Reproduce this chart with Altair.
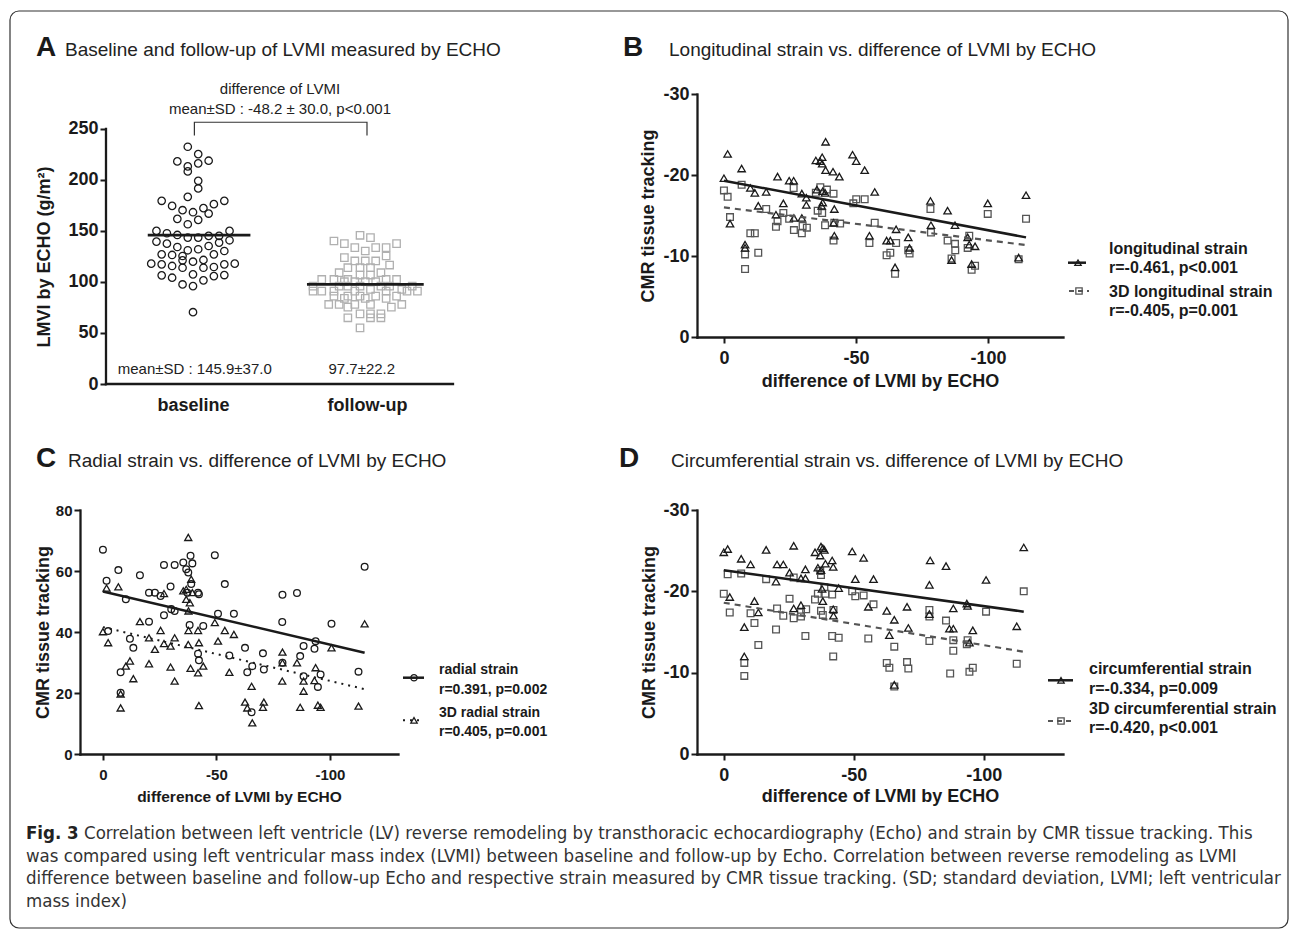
import altair as alt
import pandas as pd

FONT = "Liberation Sans, Arial, Helvetica, sans-serif"
CAP_FONT = "Liberation Sans Narrow, DejaVu Sans Condensed, Arial Narrow, sans-serif"
INK = "#1a1a1a"
GRAY = "#555555"
LIGHT = "#b0b0b0"
MINUS_FIX = "replace(datum.label, '\u2212', '-')"

# ---------------- Panel A data ----------------
A_groups = ["baseline", "follow-up"]
A_base_dx = [-0.03, 0.03, -0.09, 0.09, -0.03, 0.03, -0.03, 0.03, 0.03, -0.03,
             -0.18, 0.18, -0.12, 0.12, -0.06, 0.00, 0.06, 0.09, -0.09, 0.03,
             -0.03, -0.21, 0.21, -0.15, -0.09, -0.03, 0.03, 0.09, 0.15, -0.21,
             -0.15, -0.09, -0.03, 0.03, 0.09, 0.15, 0.21, -0.18, -0.12, -0.06,
             0.12, 0.18, -0.24, -0.18, -0.12, -0.06, 0.00, 0.06, 0.12, 0.18,
             0.24, -0.06, 0.06, -0.18, -0.12, 0.00, 0.06, 0.12, 0.18, -0.06,
             0.00, 0.00]
A_base_y = [232.6, 225.4, 218.2, 218.9, 213.3, 216.3, 208.4, 199.2, 191.7, 183.5,
            179.6, 179.6, 174.6, 176.3, 170.4, 168.4, 172.4, 167.1, 161.9, 160.9,
            156.6, 150.1, 150.1, 147.8, 146.1, 143.5, 143.5, 145.2, 145.2, 139.6,
            137.6, 134.3, 131.1, 132.1, 135.3, 138.6, 140.9, 127.1, 126.5, 125.5,
            127.1, 130.4, 118.0, 117.3, 115.7, 121.2, 119.9, 121.6, 114.7, 117.3,
            118.0, 114.0, 114.0, 106.5, 104.2, 107.5, 101.6, 105.8, 106.8, 97.6,
            96.0, 70.4]
A_fu_dx = [-0.04, 0.02, -0.19, -0.13, 0.17, -0.07, 0.05, 0.11, -0.01, 0.11,
           -0.13, -0.07, -0.01, 0.05, 0.13, -0.11, -0.04, 0.02, -0.16, 0.08,
           -0.04, 0.02, -0.26, -0.19, -0.11, 0.11, 0.17, -0.13, -0.07, -0.01,
           0.05, -0.31, -0.16, -0.11, -0.04, 0.08, 0.13, 0.26, 0.02, 0.20,
           -0.31, -0.26, -0.19, -0.07, 0.11, 0.23, 0.29, -0.19, -0.11, -0.04,
           0.05, 0.17, -0.13, -0.01, 0.11, -0.22, -0.16, -0.07, 0.02, 0.20,
           -0.11, 0.14, -0.04, 0.02, 0.08, -0.11, 0.02, 0.08, -0.04]
A_fu_y = [145.8, 143.5, 140.2, 137.6, 137.6, 133.7, 133.7, 133.7, 130.4, 125.5,
          123.9, 120.6, 120.6, 120.6, 116.6, 114.0, 114.0, 114.0, 109.1, 109.1,
          106.8, 106.8, 102.5, 102.5, 102.5, 102.5, 102.5, 100.3, 100.3, 100.3,
          100.3, 96.0, 96.0, 96.0, 96.0, 96.0, 96.0, 96.0, 92.7, 92.7,
          91.1, 91.1, 91.1, 91.1, 91.1, 91.1, 91.1, 86.2, 86.2, 86.2,
          86.2, 86.2, 83.9, 83.9, 83.9, 78.0, 78.0, 78.0, 78.0, 78.0,
          75.4, 75.4, 68.8, 68.8, 68.8, 64.9, 64.9, 64.9, 55.0]
A_means = [145.9, 97.7]
A_mean_from = [-0.26, 0.655]
A_mean_to = [0.33, 1.326]
A_top_texts = ["difference of LVMI", "mean\u00b1SD : -48.2 \u00b1 30.0, p<0.001"]
A_top_y = [289.2, 269.6]
A_bottom_texts = ["mean\u00b1SD : 145.9\u00b137.0", "97.7\u00b122.2"]
A_bottom_x = [0.01, 0.97]
A_bracket_x = [0.008, 0.008, 1.0, 1.0]
A_bracket_y = [243.5, 256.6, 256.6, 243.5]

# ---------------- Panel B data ----------------
B_tri_x = [0, -1.4, -2.3, -6.7, -8.0, -8.0, -10.0, -11.7, -16.0, -13.0,
           -20.3, -19.7, -22.5, -24.7, -26.4, -26.5, -29.5, -29.5, -31.2, -31.2,
           -34.8, -36.4, -37.2, -37.2, -38.5, -38.5, -35.2, -37.4, -38.3, -37.0,
           -37.4, -41.3, -43.7, -41.8, -41.5, -41.8, -48.7, -50.1, -53.3, -57.1,
           -55.1, -61.6, -63.0, -65.2, -64.8, -69.8, -70.3, -78.2, -78.4, -84.7,
           -86.2, -87.5, -92.3, -92.9, -95.1, -93.8, -99.9, -111.6, -114.4]
B_tri_y = [-19.6, -22.6, -14.0, -20.8, -11.4, -11.0, -18.4, -17.8, -17.9, -16.2,
           -19.8, -15.1, -16.5, -19.3, -19.3, -14.7, -14.7, -17.7, -17.2, -16.3,
           -21.8, -21.7, -22.2, -21.4, -24.1, -20.6, -18.2, -18.0, -17.8, -16.2,
           -16.6, -20.4, -19.8, -15.8, -14.1, -12.5, -22.5, -21.7, -20.6, -17.9,
           -12.5, -11.9, -11.9, -13.3, -8.6, -12.3, -11.0, -16.8, -13.8, -15.6,
           -9.5, -13.8, -12.3, -11.4, -11.2, -9.0, -16.5, -9.8, -17.5]
B_sq_x = [0, -1.4, -2.3, -6.7, -8.0, -8.0, -10.0, -11.7, -13.0, -16.0,
          -19.7, -20.3, -22.5, -24.7, -26.4, -26.5, -29.5, -29.8, -31.4, -34.8,
          -35.5, -36.5, -37.2, -38.3, -39.0, -41.5, -41.5, -41.8, -44.0, -49.0,
          -50.1, -53.3, -55.1, -57.1, -61.6, -63.0, -65.2, -64.8, -69.8, -70.3,
          -78.2, -78.4, -84.7, -86.2, -87.5, -87.6, -92.3, -92.9, -93.8, -95.1,
          -99.9, -111.6, -114.4]
B_sq_y = [-18.1, -17.3, -14.8, -18.8, -10.2, -8.4, -12.8, -12.8, -10.4, -15.8,
          -13.6, -14.3, -15.3, -14.6, -18.4, -13.2, -12.8, -13.7, -13.5, -17.8,
          -15.6, -18.5, -15.3, -13.8, -18.2, -17.7, -11.9, -14.1, -14.0, -16.5,
          -17.0, -17.0, -11.6, -14.1, -10.1, -10.4, -11.6, -7.8, -10.7, -10.3,
          -15.8, -12.9, -11.9, -9.7, -11.5, -10.7, -11.0, -12.5, -8.3, -8.8,
          -15.2, -9.6, -14.6]
B_fit_x = [0, -114.4]
B_fit_y = [-19.3, -12.3]
B_fit3d_x = [0, -115.7]
B_fit3d_y = [-16.0, -11.3]

# ---------------- Panel C data ----------------
C_circ_x = [0, -1.6, -2.3, -6.8, -7.8, -7.8, -10.1, -11.9, -13.4, -16.3,
            -20.3, -20.3, -22.9, -25.4, -26.9, -26.9, -29.8, -30.1, -31.6, -31.6,
            -35.4, -36.7, -37.2, -37.6, -38.2, -38.6, -38.9, -39.4, -41.9, -42.3,
            -41.9, -42.3, -44.2, -49.3, -50.7, -53.7, -55.7, -57.7, -62.6, -63.6,
            -65.5, -65.8, -70.5, -70.9, -79.1, -79.0, -79.1, -85.5, -86.9, -88.4,
            -88.4, -93.7, -93.2, -95.9, -94.7, -100.7, -112.6, -115.3]
C_circ_y = [67.0, 56.8, 40.3, 60.3, 26.8, 20.1, 50.7, 37.8, 34.8, 58.6,
            52.9, 43.4, 52.9, 51.8, 62.0, 45.5, 54.9, 47.5, 46.9, 62.0,
            62.8, 60.6, 52.9, 59.5, 42.3, 65.0, 55.7, 62.5, 52.9, 52.4,
            32.9, 30.7, 42.0, 65.2, 46.0, 55.7, 32.3, 46.0, 34.8, 26.8,
            13.7, 28.8, 33.0, 27.7, 52.2, 43.3, 29.9, 52.8, 32.1, 35.4,
            25.5, 37.0, 34.5, 26.1, 22.0, 42.7, 27.0, 61.4]
C_tri_x = [0, -1.6, -2.3, -6.8, -7.8, -7.8, -10.1, -11.9, -13.4, -16.3,
           -20.3, -20.3, -22.9, -25.4, -26.9, -26.9, -29.8, -29.8, -31.6, -31.6,
           -35.4, -36.7, -36.7, -37.6, -37.7, -37.7, -37.6, -38.3, -38.6, -38.9,
           -39.4, -41.9, -42.3, -41.9, -42.3, -44.2, -49.3, -50.7, -53.7, -55.7,
           -57.7, -62.6, -63.6, -65.5, -65.8, -70.5, -70.9, -79.1, -79.0, -79.1,
           -85.5, -86.9, -88.4, -88.4, -93.7, -93.2, -94.7, -95.9, -100.7, -112.6,
           -115.3]
C_tri_y = [40.1, 54.4, 36.5, 54.8, 19.7, 15.1, 28.8, 30.5, 24.7, 43.4,
           38.1, 29.6, 34.3, 40.5, 52.6, 36.2, 35.4, 28.5, 38.1, 23.9,
           53.5, 54.0, 50.7, 71.0, 46.9, 40.5, 35.9, 49.6, 28.1, 57.3,
           52.9, 40.5, 36.5, 26.6, 15.9, 28.8, 43.1, 37.0, 40.5, 26.8,
           39.2, 17.0, 15.1, 22.2, 10.2, 15.3, 17.0, 33.4, 23.9, 29.9,
           29.9, 15.3, 23.9, 20.6, 28.3, 24.1, 16.0, 15.3, 34.8, 15.7,
           42.7]
C_fit_x = [0, -115.3]
C_fit_y = [53.3, 33.2]
C_fit3d_x = [0, -115.7]
C_fit3d_y = [41.6, 21.2]

# ---------------- Panel D data ----------------
D_tri_x = [0, -1.5, -2.3, -6.7, -7.9, -7.9, -10.3, -11.8, -13.3, -16.3,
           -20.1, -20.5, -22.9, -25.3, -26.9, -26.9, -29.7, -29.7, -31.4, -31.4,
           -35.1, -36.2, -37.1, -37.4, -38.1, -38.7, -39.1, -37.4, -37.8, -38.1,
           -41.7, -42.1, -42.1, -42.2, -44.2, -49.4, -50.6, -53.8, -57.6, -55.6,
           -62.7, -63.7, -65.6, -65.6, -70.5, -71.0, -79.4, -79.1, -79.1, -85.5,
           -86.8, -88.3, -88.3, -93.5, -93.8, -94.5, -95.8, -100.9, -112.7, -115.4]
D_tri_y = [-24.8, -25.2, -19.3, -24.0, -15.6, -12.0, -23.3, -18.8, -17.4, -25.1,
           -21.2, -23.3, -23.3, -22.3, -25.6, -17.9, -21.6, -18.3, -22.7, -21.6,
           -24.8, -22.9, -24.4, -25.5, -25.3, -25.1, -23.4, -22.6, -20.3, -18.8,
           -23.8, -23.0, -17.8, -17.0, -20.4, -24.9, -21.5, -24.1, -21.5, -18.1,
           -17.6, -14.6, -16.5, -8.5, -18.1, -15.5, -23.8, -20.8, -17.2, -23.1,
           -15.4, -15.4, -17.9, -18.5, -18.2, -13.7, -15.2, -21.4, -15.7, -25.4]
D_sq_x = [0, -1.5, -2.3, -6.7, -7.9, -7.9, -10.3, -11.8, -13.3, -16.3,
          -20.1, -20.5, -22.9, -25.3, -26.9, -26.9, -29.7, -29.7, -31.4, -31.7,
          -35.1, -36.2, -37.1, -37.4, -37.4, -38.1, -38.7, -39.1, -41.7, -41.7,
          -42.1, -42.2, -44.2, -49.4, -50.6, -53.8, -55.6, -57.6, -62.7, -63.7,
          -65.6, -65.6, -70.5, -71.0, -79.1, -79.1, -79.1, -85.5, -87.1, -88.3,
          -88.3, -93.5, -93.8, -94.5, -95.8, -100.9, -112.7, -115.4]
D_sq_y = [-19.7, -22.1, -17.4, -22.2, -11.2, -9.6, -17.3, -16.1, -13.4, -21.5,
          -15.3, -17.9, -17.0, -19.1, -21.7, -16.7, -16.9, -17.4, -14.5, -17.8,
          -19.0, -19.7, -22.5, -22.0, -17.6, -17.1, -20.5, -19.7, -19.6, -14.5,
          -12.0, -17.7, -14.3, -20.0, -19.4, -19.5, -14.2, -18.4, -11.2, -10.6,
          -13.2, -8.3, -11.3, -10.5, -17.7, -16.9, -13.9, -16.4, -9.9, -14.0,
          -12.7, -13.5, -14.0, -10.1, -10.6, -17.5, -11.1, -20.0]
D_fit_x = [0, -115.4]
D_fit_y = [-22.6, -17.5]
D_fit3d_x = [0, -116.9]
D_fit3d_y = [-18.6, -12.5]

# ---------------- Texts ----------------
TITLES = {
    "A": "Baseline and follow-up of LVMI measured by ECHO",
    "B": "Longitudinal strain vs. difference of LVMI by ECHO",
    "C": "Radial strain vs. difference of LVMI by ECHO",
    "D": "Circumferential strain vs. difference of LVMI by ECHO",
}
X_TITLE = "difference of LVMI by ECHO"
Y_TITLE = "CMR tissue tracking"
LEG_B = [["longitudinal strain", "r=-0.461, p<0.001"], ["3D longitudinal strain", "r=-0.405, p=0.001"]]
LEG_C = [["radial strain", "r=0.391, p=0.002"], ["3D radial strain", "r=0.405, p=0.001"]]
LEG_D = [["circumferential strain", "r=-0.334, p=0.009"], ["3D circumferential strain", "r=-0.420, p<0.001"]]
CAP_BOLD = "Fig. 3"
CAP_LINE1 = ("Correlation between left ventricle (LV) reverse remodeling by transthoracic "
             "echocardiography (Echo) and strain by CMR tissue tracking. This")
CAP_REST = [
    "was compared using left ventricular mass index (LVMI) between baseline and follow-up by Echo. "
    "Correlation between reverse remodeling as LVMI",
    "difference between baseline and follow-up Echo and respective strain measured by CMR tissue "
    "tracking. (SD; standard deviation, LVMI; left ventricular",
    "mass index)",
]

one = pd.DataFrame({"k": [0]})


def vtext(txt, x, y, size, weight="normal", color=INK, font=FONT, align="left",
          baseline="alphabetic", lh=None):
    kw = dict(align=align, baseline=baseline, font=font, fontSize=size,
              fontWeight=weight, color=color)
    if lh:
        kw["lineHeight"] = lh
    return alt.Chart(one).mark_text(**kw).encode(
        x=alt.value(x), y=alt.value(y), text=alt.value(txt))


def vrule(x0, x1, y, color, width, dash=None):
    kw = dict(color=color, strokeWidth=width)
    if dash:
        kw["strokeDash"] = dash
    return alt.Chart(one).mark_rule(**kw).encode(
        x=alt.value(x0), x2=alt.value(x1), y=alt.value(y))


def vsym(x, y, shape, color, size, sw=1.3):
    return alt.Chart(one).mark_point(shape=shape, filled=False, size=size, strokeWidth=sw,
                                     color=color, opacity=1).encode(
        x=alt.value(x), y=alt.value(y))


def legend_item(x0, x1, xs, ys, shape, color, size, dash, lines, tx, ty, fs, lh, lw):
    return [vrule(x0, x1, ys, color, lw, dash), vsym(xs, ys, shape, color, size),
            vtext(lines, tx, ty, fs, "bold", INK, lh=lh)]


def titles(letter, lx, tx, by):
    return [vtext(letter, lx, by, 28, "bold", INK),
            vtext(TITLES[letter], tx, by, 19, "normal", "#222222")]


def scatter(xs, ys, shape, color, size, X, Y, sw=1.3):
    df = pd.DataFrame({"x": xs, "y": ys})
    return alt.Chart(df).mark_point(shape=shape, filled=False, size=size, strokeWidth=sw,
                                    color=color, opacity=1).encode(x=X, y=Y)


def fitline(xs, ys, color, width, X, Y, dash=None):
    df = pd.DataFrame({"x": xs, "y": ys})
    kw = dict(color=color, strokeWidth=width)
    if dash:
        kw["strokeDash"] = dash
    return alt.Chart(df).mark_line(**kw).encode(x=X, y=Y)


def xaxis(vals, fs, tfs, ty, pad):
    return alt.Axis(values=vals, labelExpr=MINUS_FIX, tickSize=6, labelPadding=pad,
                    labelFontSize=fs, titleFontSize=tfs, titleY=ty,
                    titleBaseline="alphabetic", labelFlush=False)


def yaxis(vals, fs, tfs, tx, ty, pad):
    return alt.Axis(values=vals, labelExpr=MINUS_FIX, tickSize=6, labelPadding=pad,
                    labelFontSize=fs, titleFontSize=tfs, titleX=tx, titleY=ty,
                    titleBaseline="middle", titleAngle=270, labelFlush=False)


# ================= Panel A =================
WA, HA = 373, 290
A_X = alt.X("x:Q", title=None,
            scale=alt.Scale(domain=[-0.6494, 1.4943], nice=False, zero=False),
            axis=alt.Axis(values=[0, 1],
                          labelExpr=f"datum.value == 0 ? '{A_groups[0]}' : '{A_groups[1]}'",
                          domain=False, ticks=False, tickSize=0, labelPadding=12,
                          labelFontSize=18, labelFlush=False))
A_Y = alt.Y("y:Q", title="LMVI by ECHO (g/m\u00b2)",
            scale=alt.Scale(domain=[0, 284.3], nice=False, zero=False),
            axis=alt.Axis(values=[0, 50, 100, 150, 200, 250], domain=False, offset=-26,
                          tickSize=6, labelPadding=2, labelFontSize=18, titleFontSize=18,
                          titleX=-61.5, titleY=162.5, titleBaseline="middle",
                          titleAngle=270, labelFlush=False))

a_base = scatter(A_base_dx, A_base_y, "circle", INK, 55, A_X, A_Y)
a_fu = scatter([1 + d for d in A_fu_dx], A_fu_y, "square", LIGHT, 55, A_X, A_Y)
a_means = alt.Chart(pd.DataFrame({"x": A_mean_from, "x2": A_mean_to, "y": A_means})).mark_rule(
    color=INK, strokeWidth=2.6).encode(x=A_X, x2="x2:Q", y=A_Y)
a_axes = alt.Chart(pd.DataFrame({"x": [-0.5, -0.5], "x2": [-0.5, 1.4943],
                                 "y": [0, 0], "y2": [250, 0]})).mark_rule(
    color=INK, strokeWidth=2.3, strokeCap="square").encode(x=A_X, x2="x2:Q", y=A_Y, y2="y2:Q")
a_bracket = alt.Chart(pd.DataFrame({"x": A_bracket_x, "y": A_bracket_y, "o": [0, 1, 2, 3]})).mark_line(
    color="#333333", strokeWidth=1.2).encode(x=A_X, y=A_Y, order="o:Q")
a_top = alt.Chart(pd.DataFrame({"x": [0.5, 0.5], "y": A_top_y, "t": A_top_texts})).mark_text(
    font=FONT, fontSize=15, color="#222222", align="center", baseline="middle").encode(
    x=A_X, y=A_Y, text="t:N")
a_bottom = alt.Chart(pd.DataFrame({"x": A_bottom_x, "y": [15, 15], "t": A_bottom_texts})).mark_text(
    font=FONT, fontSize=15, color="#222222", align="center", baseline="middle").encode(
    x=A_X, y=A_Y, text="t:N")
border = alt.Chart(one).mark_rect(fill="transparent", stroke="#333333", strokeWidth=1.2,
                                  cornerRadius=9).encode(
    x=alt.value(-70), x2=alt.value(1208), y=alt.value(-83), y2=alt.value(834))

panelA = alt.layer(a_fu, a_base, a_means, a_axes, a_bracket, a_top, a_bottom,
                   *titles("A", -44, -15, -38), border).properties(width=WA, height=HA)

# ================= Panel B =================
WB, HB = 366, 243
B_X = alt.X("x:Q", title=X_TITLE, scale=alt.Scale(domain=[10.2, -128.4], nice=False, zero=False),
            axis=xaxis([0, -50, -100], 18, 18, 49, 6))
B_Y = alt.Y("y:Q", title=Y_TITLE, scale=alt.Scale(domain=[0, -30], nice=False, zero=False),
            axis=yaxis([0, -10, -20, -30], 18, 18, -48.5, HB / 2, 2))
panelB = alt.layer(
    scatter(B_sq_x, B_sq_y, "square", GRAY, 45, B_X, B_Y),
    scatter(B_tri_x, B_tri_y, "triangle-up", INK, 55, B_X, B_Y),
    fitline(B_fit_x, B_fit_y, INK, 2.5, B_X, B_Y),
    fitline(B_fit3d_x, B_fit3d_y, GRAY, 2.2, B_X, B_Y, [6, 5]),
    *legend_item(371, 389, 381, 168.7, "triangle-up", INK, 40, None, LEG_B[0], 412, 159.7, 16, 19, 2.5),
    *legend_item(372, 392, 382, 197, "square", GRAY, 40, [5, 4], LEG_B[1], 412, 203, 16, 19, 2),
    *titles("B", -74, -28, -38),
).properties(width=WB, height=HB)

# ================= Panel C =================
WC, HC = 318, 244
C_X = alt.X("x:Q", title=X_TITLE, scale=alt.Scale(domain=[10.1, -130], nice=False, zero=False),
            axis=xaxis([0, -50, -100], 15, 15.5, 47, 7))
C_Y = alt.Y("y:Q", title=Y_TITLE, scale=alt.Scale(domain=[0, 80], nice=False, zero=False),
            axis=yaxis([0, 20, 40, 60, 80], 15, 18, -37, HC / 2, 2))
panelC = alt.layer(
    scatter(C_tri_x, C_tri_y, "triangle-up", INK, 50, C_X, C_Y),
    scatter(C_circ_x, C_circ_y, "circle", INK, 45, C_X, C_Y),
    fitline(C_fit_x, C_fit_y, INK, 2.5, C_X, C_Y),
    fitline(C_fit3d_x, C_fit3d_y, INK, 2, C_X, C_Y, [2, 5]),
    *legend_item(323, 344, 334, 167.7, "circle", INK, 40, None, LEG_C[0], 359, 164.3, 14, 19.4, 2.5),
    *legend_item(323, 344, 334, 210.3, "triangle-up", INK, 40, [2, 5], LEG_C[1], 359, 207, 14, 19.4, 2),
    *titles("C", -44, -12, -43),
    vtext(CAP_BOLD, -54, 329, 18.5, "bold", "#222222", CAP_FONT),
    vtext(CAP_LINE1, 4, 329, 18.5, "normal", "#333333", CAP_FONT),
    vtext(CAP_REST, -54, 351.5, 18.5, "normal", "#333333", CAP_FONT, lh=22.5),
).properties(width=WC, height=HC)

# ================= Panel D =================
WD, HD = 366, 244
D_X = alt.X("x:Q", title=X_TITLE, scale=alt.Scale(domain=[10.3, -130.5], nice=False, zero=False),
            axis=xaxis([0, -50, -100], 18, 18, 47, 6))
D_Y = alt.Y("y:Q", title=Y_TITLE, scale=alt.Scale(domain=[0, -30], nice=False, zero=False),
            axis=yaxis([0, -10, -20, -30], 18, 18, -47.5, HD / 2, 2))
panelD = alt.layer(
    scatter(D_sq_x, D_sq_y, "square", GRAY, 45, D_X, D_Y),
    scatter(D_tri_x, D_tri_y, "triangle-up", INK, 55, D_X, D_Y),
    fitline(D_fit_x, D_fit_y, INK, 2.5, D_X, D_Y),
    fitline(D_fit3d_x, D_fit3d_y, GRAY, 2.2, D_X, D_Y, [6, 5]),
    *legend_item(351, 376, 364, 170.3, "triangle-up", INK, 40, None, LEG_D[0], 392, 164.3, 16, 19.4, 2.5),
    *legend_item(351, 377, 364, 211, "square", GRAY, 40, [5, 4], LEG_D[1], 392, 203.7, 16, 19.4, 2),
    *titles("D", -78, -26, -43),
).properties(width=WD, height=HD)

chart = alt.concat(panelA, panelB, panelC, panelD, columns=2,
                   spacing={"row": 126, "column": 244}, bounds="flush").properties(
    padding={"left": 8, "top": 9, "right": 0, "bottom": 0}, background="white"
).configure_view(stroke="transparent").configure_axis(
    domainColor=INK, domainWidth=2.3, domainCap="square", tickColor=INK, tickWidth=2,
    labelFont=FONT, labelFontWeight="bold", labelColor=INK,
    titleFont=FONT, titleFontWeight="bold", titleColor=INK, grid=False)

chart.save("out.html", embed_options={"renderer": "svg", "actions": False})
